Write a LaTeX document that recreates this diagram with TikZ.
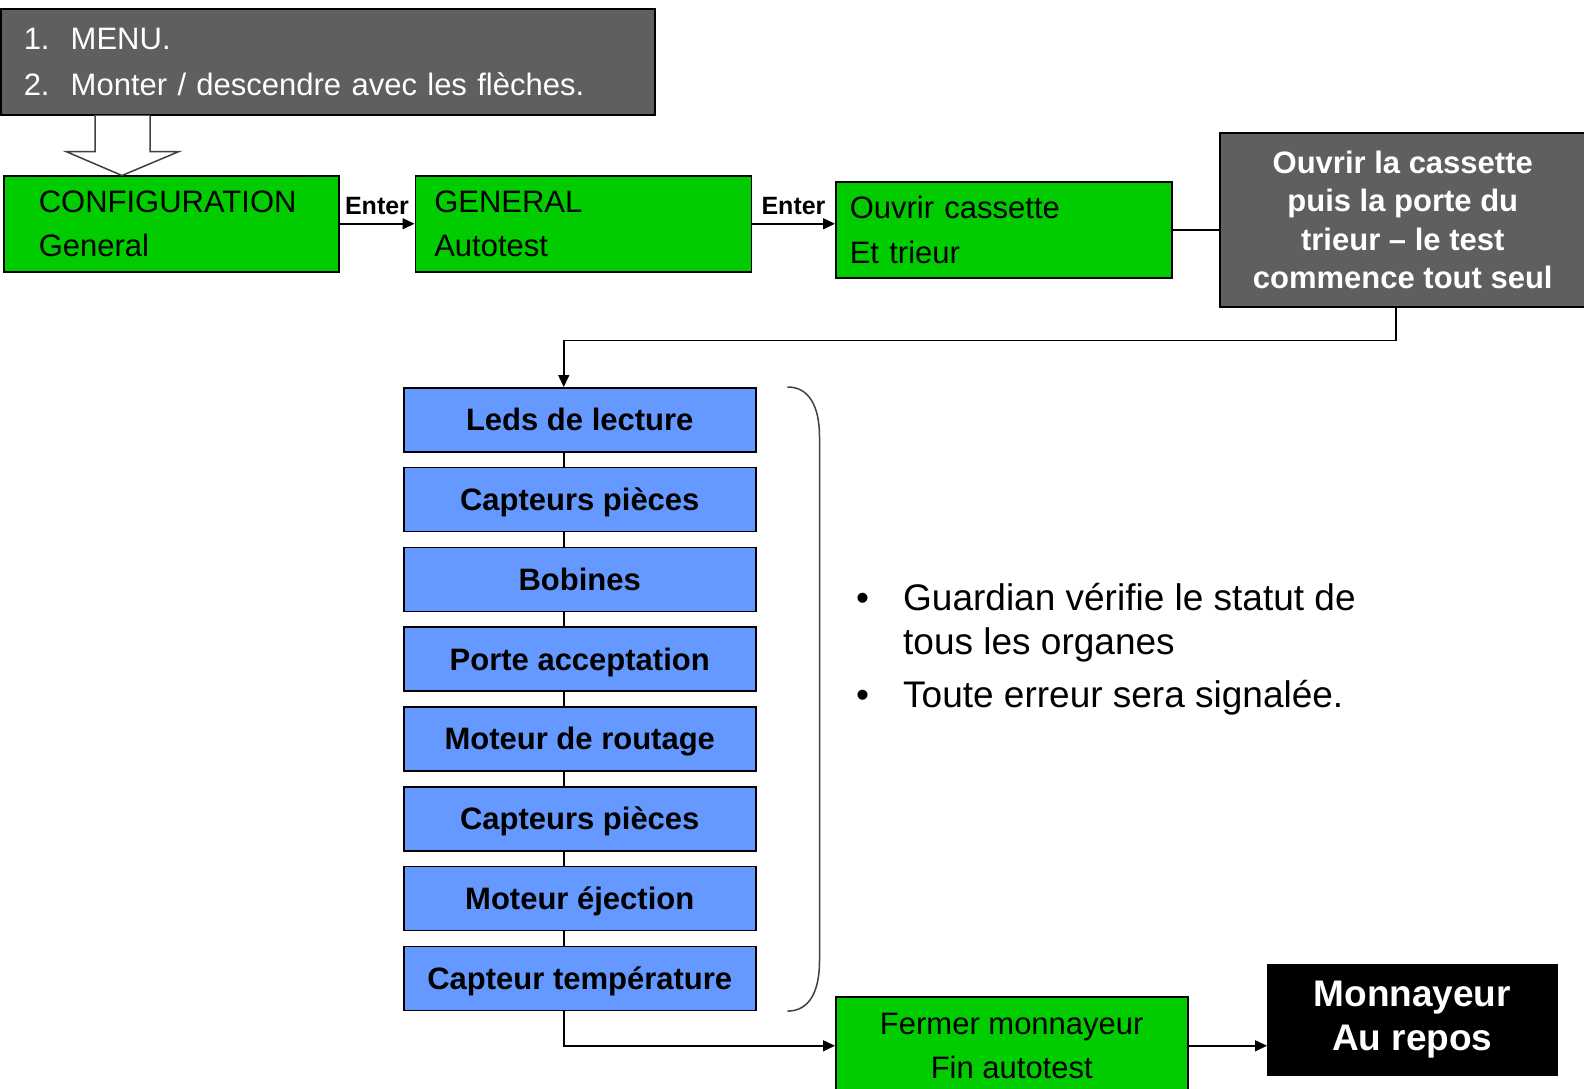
\documentclass[tikz,border=0pt]{standalone}
\usepackage{fontspec}
\setmainfont{Liberation Sans}
\usetikzlibrary{arrows.meta, positioning}

\definecolor{gruen}{HTML}{00CC00}
\definecolor{blau}{HTML}{6699FF}
\definecolor{grau}{HTML}{5F5F5F}

\begin{document}
\begin{tikzpicture}[
        x=1pt, y=-1pt,
        node distance = 14.3pt and 14.3pt,
        kasten/.style = {rectangle, draw, line width=1.5pt, inner sep=0pt, anchor=north west},
        gruen/.style = {kasten, fill=gruen, align=left, minimum height=96pt, font=\fontsize{31}{44.5}\selectfont},
        blau/.style = {kasten, fill=blau, minimum width=352pt, minimum height=64pt, text height=22pt, text depth=0pt, font=\fontsize{31}{36}\selectfont\bfseries},
        grau/.style = {kasten, fill=grau, text=white},
        pil/.style = {black, line width=1.6pt, -{Triangle[length=12pt,width=11pt]}},
        linje/.style = {black, line width=1.6pt},
        klammer/.style = {black!75, line width=1.5pt},
        hohl/.style = {draw=black!75, fill=white, line width=1.5pt},
        enter/.style = {midway, above=8pt, inner sep=0pt, font=\fontsize{25}{30}\selectfont\bfseries}
        ]

        \useasboundingbox (0,0) rectangle (1584,1088);

        \node[grau, align=left, inner xsep=23pt, text width=608pt, minimum height=106pt, font=\fontsize{31}{45.6}\selectfont] (menu) at (0,8)
            {\makebox[47pt][l]{1.}MENU.\\\makebox[47pt][l]{2.}Monter / descendre avec les flèches.};
        \node[gruen, inner xsep=35pt, text width=265pt] (config) at (3,175) {CONFIGURATION\\General};
        \node[gruen, inner xsep=19pt, text width=298pt] (general) [right=75pt of config] {GENERAL\\Autotest};
        \node[gruen, inner xsep=14pt, text width=308pt] (ouvrir) at (835,181) {Ouvrir cassette\\Et trieur};
        \node[grau, align=center, minimum width=366pt, minimum height=174pt, font=\fontsize{31}{38.4}\selectfont\bfseries] (info) at (1219,132)
            {Ouvrir la cassette\\puis la porte du\\trieur – le test\\commence tout seul};

        \node[blau] (leds) at (403,387) {Leds de lecture};
        \node[blau] (capt1) [below=of leds] {Capteurs pièces};
        \node[blau] (bobines) [below=of capt1] {Bobines};
        \node[blau] (porte) [below=of bobines] {Porte acceptation};
        \node[blau] (routage) [below=of porte] {Moteur de routage};
        \node[blau] (capt2) [below=of routage] {Capteurs pièces};
        \node[blau] (ejection) [below=of capt2] {Moteur éjection};
        \node[blau] (temp) [below=of ejection] {Capteur température};

        \node[anchor=north west, inner sep=0pt, align=left, font=\fontsize{37}{44}\selectfont] (organes) at (856,583)
            {\makebox[47pt][l]{\textbullet}Guardian vérifie le statut de\\\hspace*{47pt}tous les organes\\[9pt]\makebox[47pt][l]{\textbullet}Toute erreur sera signalée.};

        \node[gruen, align=center, minimum width=352pt, minimum height=98pt] (fermer) at (835,996) {Fermer monnayeur\\Fin autotest};
        \node[kasten, fill=black, text=white, align=center, minimum width=289pt, minimum height=110pt, font=\fontsize{37}{43.5}\selectfont\bfseries] (ruhe) at (1267,964)
            {Monnayeur\\Au repos};

        % hollow arrow from the menu
        \draw[hohl] (menu.south west) ++(95,0) -- ++(0,36) -- ++(-29,0) -- ++(56,24) -- ++(57,-24) -- ++(-29,0) -- ++(0,-36);

        \draw[pil] (config) -- node[enter]{Enter} (general);
        \draw[pil] (general.east) -- node[enter]{Enter} (general.east -| ouvrir.west);
        \draw[linje] (ouvrir.east) -- (ouvrir.east -| info.west);
        \draw[pil] ([xshift=-7pt]info.south) -- ++(0,33) -| ([xshift=-16pt]leds.north);

        \draw[linje] ([xshift=-16pt]leds.south) edge ([xshift=-16pt]capt1.north)
        ([xshift=-16pt]capt1.south) edge ([xshift=-16pt]bobines.north)
        ([xshift=-16pt]bobines.south) edge ([xshift=-16pt]porte.north)
        ([xshift=-16pt]porte.south) edge ([xshift=-16pt]routage.north)
        ([xshift=-16pt]routage.south) edge ([xshift=-16pt]capt2.north)
        ([xshift=-16pt]capt2.south) edge ([xshift=-16pt]ejection.north)
        ([xshift=-16pt]ejection.south) edge ([xshift=-16pt]temp.north);

        \draw[klammer] ([xshift=31pt]leds.north east) .. controls +(22,0) and +(0,-30) .. ([xshift=63pt,yshift=-50pt]leds.north east)
        -- ([xshift=63pt,yshift=50pt]temp.south east) .. controls +(0,30) and +(22,0) .. ([xshift=31pt]temp.south east);

        \draw[pil] ([xshift=-16pt]temp.south) |- (fermer.west);
        \draw[pil] (fermer.east) -- (fermer.east -| ruhe.west);

\end{tikzpicture}
\end{document}
